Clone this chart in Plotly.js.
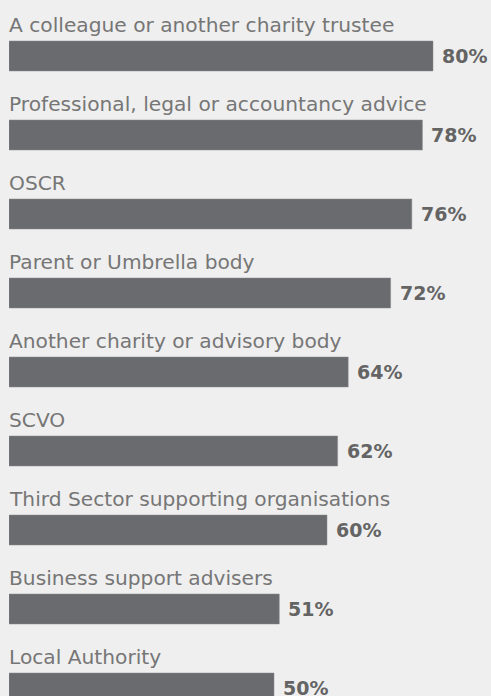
<!DOCTYPE html>
<html>
<head>
<meta charset="utf-8">
<script src="https://cdn.plot.ly/plotly-3.0.1.min.js"></script>
<style>
html,body{margin:0;padding:0;background:#efefef;}
#chart{width:491px;height:696px;}
</style>
</head>
<body>
<div id="chart"></div>
<script>
var categories = [
  "A colleague or another charity trustee",
  "Professional, legal or accountancy advice",
  "OSCR",
  "Parent or Umbrella body",
  "Another charity or advisory body",
  "SCVO",
  "Third Sector supporting organisations",
  "Business support advisers",
  "Local Authority"
];
var values = [80, 78, 76, 72, 64, 62, 60, 51, 50];
var valueLabels = ["80%", "78%", "76%", "72%", "64%", "62%", "60%", "51%", "50%"];

var positions = categories.map(function(c, i){ return i; });

var annotations = [];
categories.forEach(function(c, i){
  annotations.push({
    x: 0, y: positions[i], xref: 'x', yref: 'y',
    text: c, showarrow: false, xanchor: 'left', yanchor: 'bottom',
    yshift: 17, xshift: -2,
    font: {family: '"DejaVu Sans", sans-serif', size: 20.2, color: '#767676'}
  });
  annotations.push({
    x: values[i], y: positions[i], xref: 'x', yref: 'y',
    text: valueLabels[i], showarrow: false, xanchor: 'left', yanchor: 'middle',
    xshift: 7, yshift: 0,
    font: {family: '"DejaVu Sans", sans-serif', size: 19, color: '#646464', weight: 'bold'}
  });
});

var trace = {
  type: 'bar', orientation: 'h',
  x: values, y: positions,
  width: 0.38,
  marker: {color: '#6a6b6f', line: {color: '#8a8b8e', width: 0.5}},
  hoverinfo: 'none'
};

var layout = {
  width: 491, height: 696,
  margin: {l: 9, r: 0, t: 0, b: 0},
  paper_bgcolor: '#efefef', plot_bgcolor: '#efefef',
  showlegend: false,
  xaxis: {range: [0, 482/5.3], visible: false, fixedrange: true},
  yaxis: {range: [(696-56)/79, -56/79], visible: false, fixedrange: true},
  annotations: annotations
};

Plotly.newPlot('chart', [trace], layout, {displayModeBar: false, staticPlot: true});
</script>
</body>
</html>
